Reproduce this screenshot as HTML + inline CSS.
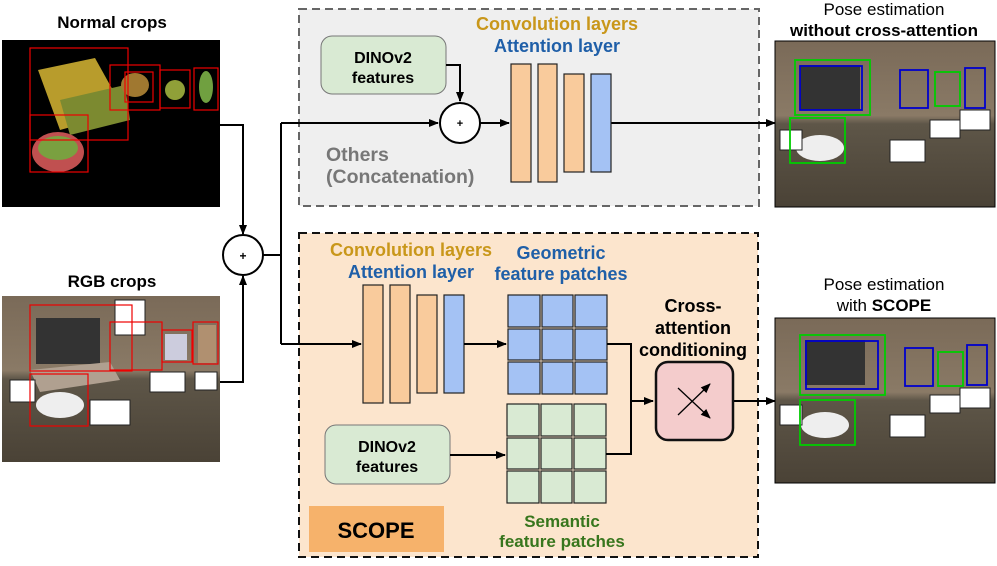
<!DOCTYPE html>
<html><head><style>
body{margin:0;background:#fff;}
svg text{font-family:"Liberation Sans",Arial,sans-serif;font-weight:bold;}
</style></head><body>
<svg width="997" height="561" viewBox="0 0 997 561" xmlns="http://www.w3.org/2000/svg">
<defs>
<marker id="a" markerWidth="10" markerHeight="10" refX="9" refY="5" orient="auto" markerUnits="userSpaceOnUse"><path d="M0,1 L10,5 L0,9z" fill="#000"/></marker>
<linearGradient id="room" x1="0" y1="0" x2="0" y2="1"><stop offset="0" stop-color="#7a6a58"/><stop offset="0.45" stop-color="#8a7a66"/><stop offset="0.5" stop-color="#5e5648"/><stop offset="1" stop-color="#4a4236"/></linearGradient>
</defs>
<text x="112" y="28" font-size="17" text-anchor="middle">Normal crops</text>
<text x="112" y="287" font-size="17" text-anchor="middle">RGB crops</text>
<rect x="2" y="40" width="218" height="167" fill="#000"/>
<path d="M38,70 L95,58 L125,112 L60,130 Z" fill="#b89c2c"/>
<path d="M60,100 L125,85 L130,120 L70,135Z" fill="#7c8a30"/>
<ellipse cx="58" cy="152" rx="26" ry="20" fill="#c05050"/>
<ellipse cx="58" cy="148" rx="20" ry="12" fill="#7aa040"/>
<ellipse cx="135" cy="85" rx="14" ry="12" fill="#a07830"/>
<ellipse cx="175" cy="90" rx="10" ry="10" fill="#90a038"/>
<ellipse cx="206" cy="87" rx="7" ry="16" fill="#70a040"/>
<g fill="none" stroke="#e00" stroke-width="1.2">
<rect x="30" y="48" width="98" height="92"/><rect x="30" y="115" width="58" height="57"/>
<rect x="110" y="65" width="50" height="45"/><rect x="125" y="72" width="28" height="30"/>
<rect x="160" y="70" width="30" height="38"/><rect x="194" y="68" width="24" height="42"/>
</g>
<rect x="2" y="296" width="218" height="166" fill="url(#room)"/>
<rect x="36" y="318" width="64" height="46" fill="#333"/>
<path d="M30,370 L110,362 L120,380 L40,392Z" fill="#b0a090"/>
<ellipse cx="60" cy="405" rx="24" ry="13" fill="#eee"/>
<rect x="165" y="334" width="22" height="26" fill="#ccd"/>
<rect x="198" y="325" width="18" height="38" fill="#b09070"/>
<g fill="#fff" stroke="#222"><rect x="10" y="380" width="25" height="22"/><rect x="90" y="400" width="40" height="25"/><rect x="150" y="372" width="35" height="20"/><rect x="195" y="372" width="22" height="18"/><rect x="115" y="300" width="30" height="35"/></g>
<g fill="none" stroke="#e00" stroke-width="1.2">
<rect x="30" y="305" width="102" height="66"/><rect x="30" y="374" width="58" height="52"/>
<rect x="110" y="322" width="52" height="48"/><rect x="162" y="330" width="30" height="32"/><rect x="193" y="322" width="25" height="42"/>
</g>
<g stroke="#000" stroke-width="2" fill="none">
<polyline points="220,125 243,125 243,234" marker-end="url(#a)"/>
<polyline points="220,382 243,382 243,276" marker-end="url(#a)"/>
<polyline points="263,255 281,255"/>
<polyline points="281,123 281,344"/>
</g>
<circle cx="243" cy="255" r="20" fill="#fff" stroke="#000" stroke-width="2"/>
<text x="243" y="260" font-size="12" text-anchor="middle">+</text>
<rect x="299" y="9" width="460" height="197" fill="#efefef" stroke="#666" stroke-width="2" stroke-dasharray="8,5"/>
<text x="557" y="30" font-size="18" fill="#c9971a" text-anchor="middle">Convolution layers</text>
<text x="557" y="52" font-size="18" fill="#1f5fa8" text-anchor="middle">Attention layer</text>
<rect x="321" y="36" width="125" height="58" rx="11" fill="#d9ead3" stroke="#777"/>
<text x="383" y="63" font-size="16" text-anchor="middle">DINOv2</text>
<text x="383" y="83" font-size="16" text-anchor="middle">features</text>
<text x="326" y="161" font-size="19.5" fill="#777">Others</text>
<text x="326" y="183" font-size="19.5" fill="#777">(Concatenation)</text>
<g stroke="#000" stroke-width="2" fill="none">
<polyline points="281,123 438,123" marker-end="url(#a)"/>
<polyline points="446,65 460,65 460,101" marker-end="url(#a)"/>
<polyline points="480,123 509,123" marker-end="url(#a)"/>
<polyline points="611,123 775,123" marker-end="url(#a)"/>
</g>
<circle cx="460" cy="123" r="20" fill="#fff" stroke="#000" stroke-width="2"/>
<text x="460" y="127" font-size="11" text-anchor="middle">+</text>
<g stroke="#222" stroke-width="1.2">
<rect x="511" y="64" width="20" height="118" fill="#f9cb9c"/>
<rect x="538" y="64" width="19" height="118" fill="#f9cb9c"/>
<rect x="564" y="74" width="20" height="98" fill="#f9cb9c"/>
<rect x="591" y="74" width="20" height="98" fill="#a4c2f4"/>
</g>
<rect x="299" y="233" width="459" height="324" fill="#fce5cd" stroke="#111" stroke-width="2" stroke-dasharray="8,5"/>
<text x="411" y="256" font-size="18" fill="#c9971a" text-anchor="middle">Convolution layers</text>
<text x="411" y="278" font-size="18" fill="#1f5fa8" text-anchor="middle">Attention layer</text>
<text x="561" y="259" font-size="18" fill="#1f5fa8" text-anchor="middle">Geometric</text>
<text x="561" y="280" font-size="18" fill="#1f5fa8" text-anchor="middle">feature patches</text>
<text x="693" y="312" font-size="18" text-anchor="middle">Cross-</text>
<text x="693" y="334" font-size="18" text-anchor="middle">attention</text>
<text x="693" y="356" font-size="18" text-anchor="middle">conditioning</text>
<text x="562" y="527" font-size="17" fill="#38761d" text-anchor="middle">Semantic</text>
<text x="562" y="547" font-size="17" fill="#38761d" text-anchor="middle">feature patches</text>
<rect x="309" y="506" width="135" height="46" fill="#f6b26b"/>
<text x="376" y="538" font-size="22" text-anchor="middle">SCOPE</text>
<g stroke="#222" stroke-width="1.2">
<rect x="363" y="285" width="20" height="118" fill="#f9cb9c"/>
<rect x="390" y="285" width="20" height="118" fill="#f9cb9c"/>
<rect x="417" y="295" width="20" height="98" fill="#f9cb9c"/>
<rect x="444" y="295" width="20" height="98" fill="#a4c2f4"/>
</g>
<g stroke="#222" stroke-width="1.2" fill="#a4c2f4">
<rect x="508" y="295" width="32" height="32"/><rect x="542" y="295" width="31" height="32"/><rect x="575" y="295" width="32" height="32"/>
<rect x="508" y="329" width="32" height="31"/><rect x="542" y="329" width="31" height="31"/><rect x="575" y="329" width="32" height="31"/>
<rect x="508" y="362" width="32" height="32"/><rect x="542" y="362" width="31" height="32"/><rect x="575" y="362" width="32" height="32"/>
</g>
<g stroke="#222" stroke-width="1.2" fill="#d9ead3">
<rect x="507" y="404" width="32" height="32"/><rect x="541" y="404" width="31" height="32"/><rect x="574" y="404" width="32" height="32"/>
<rect x="507" y="438" width="32" height="31"/><rect x="541" y="438" width="31" height="31"/><rect x="574" y="438" width="32" height="31"/>
<rect x="507" y="471" width="32" height="32"/><rect x="541" y="471" width="31" height="32"/><rect x="574" y="471" width="32" height="32"/>
</g>
<rect x="325" y="425" width="125" height="59" rx="11" fill="#d9ead3" stroke="#777"/>
<text x="387" y="452" font-size="16" text-anchor="middle">DINOv2</text>
<text x="387" y="472" font-size="16" text-anchor="middle">features</text>
<g stroke="#000" stroke-width="2" fill="none">
<polyline points="281,344 361,344" marker-end="url(#a)"/>
<polyline points="464,344 506,344" marker-end="url(#a)"/>
<polyline points="450,455 505,455" marker-end="url(#a)"/>
<polyline points="607,344 631,344 631,454 606,454"/>
<polyline points="631,401 653,401" marker-end="url(#a)"/>
<polyline points="733,401 775,401" marker-end="url(#a)"/>
</g>
<rect x="656" y="362" width="77" height="78" rx="12" fill="#f4cccc" stroke="#111" stroke-width="2.5"/>
<g stroke="#000" stroke-width="1.3">
<line x1="678" y1="388" x2="710" y2="418" marker-end="url(#a)"/>
<line x1="678" y1="415" x2="710" y2="384" marker-end="url(#a)"/>
</g>
<text x="884" y="15" font-size="17" text-anchor="middle" style="font-weight:normal">Pose estimation</text>
<text x="884" y="36" font-size="17" text-anchor="middle">without cross-attention</text>
<text x="884" y="290" font-size="17" text-anchor="middle" style="font-weight:normal">Pose estimation</text>
<text x="884" y="311" font-size="17" text-anchor="middle"><tspan style="font-weight:normal">with </tspan>SCOPE</text>
<g>
<rect x="775" y="41" width="220" height="166" fill="url(#room)" stroke="#000"/>
<rect x="800" y="65" width="60" height="45" fill="#333"/>
<ellipse cx="820" cy="148" rx="24" ry="13" fill="#eee"/>
<g fill="#fff" stroke="#222"><rect x="780" y="130" width="22" height="20"/><rect x="890" y="140" width="35" height="22"/><rect x="930" y="120" width="30" height="18"/><rect x="960" y="110" width="30" height="20"/></g>
<g fill="none" stroke-width="1.8"><rect x="795" y="60" width="75" height="55" stroke="#0c0"/><rect x="800" y="66" width="62" height="44" stroke="#00c"/><rect x="790" y="118" width="55" height="45" stroke="#0c0"/><rect x="900" y="70" width="28" height="38" stroke="#00c"/><rect x="935" y="72" width="25" height="34" stroke="#0c0"/><rect x="965" y="68" width="20" height="40" stroke="#00c"/></g>
</g>
<g>
<rect x="775" y="318" width="220" height="165" fill="url(#room)" stroke="#000"/>
<rect x="805" y="340" width="60" height="45" fill="#333"/>
<ellipse cx="825" cy="425" rx="24" ry="13" fill="#eee"/>
<g fill="#fff" stroke="#222"><rect x="780" y="405" width="22" height="20"/><rect x="890" y="415" width="35" height="22"/><rect x="930" y="395" width="30" height="18"/><rect x="960" y="388" width="30" height="20"/></g>
<g fill="none" stroke-width="1.8"><rect x="800" y="335" width="85" height="60" stroke="#0c0"/><rect x="806" y="341" width="72" height="48" stroke="#00c"/><rect x="800" y="400" width="55" height="45" stroke="#0c0"/><rect x="905" y="348" width="28" height="38" stroke="#00c"/><rect x="938" y="352" width="25" height="34" stroke="#0c0"/><rect x="967" y="345" width="20" height="40" stroke="#00c"/></g>
</g>
</svg>
</body></html>
